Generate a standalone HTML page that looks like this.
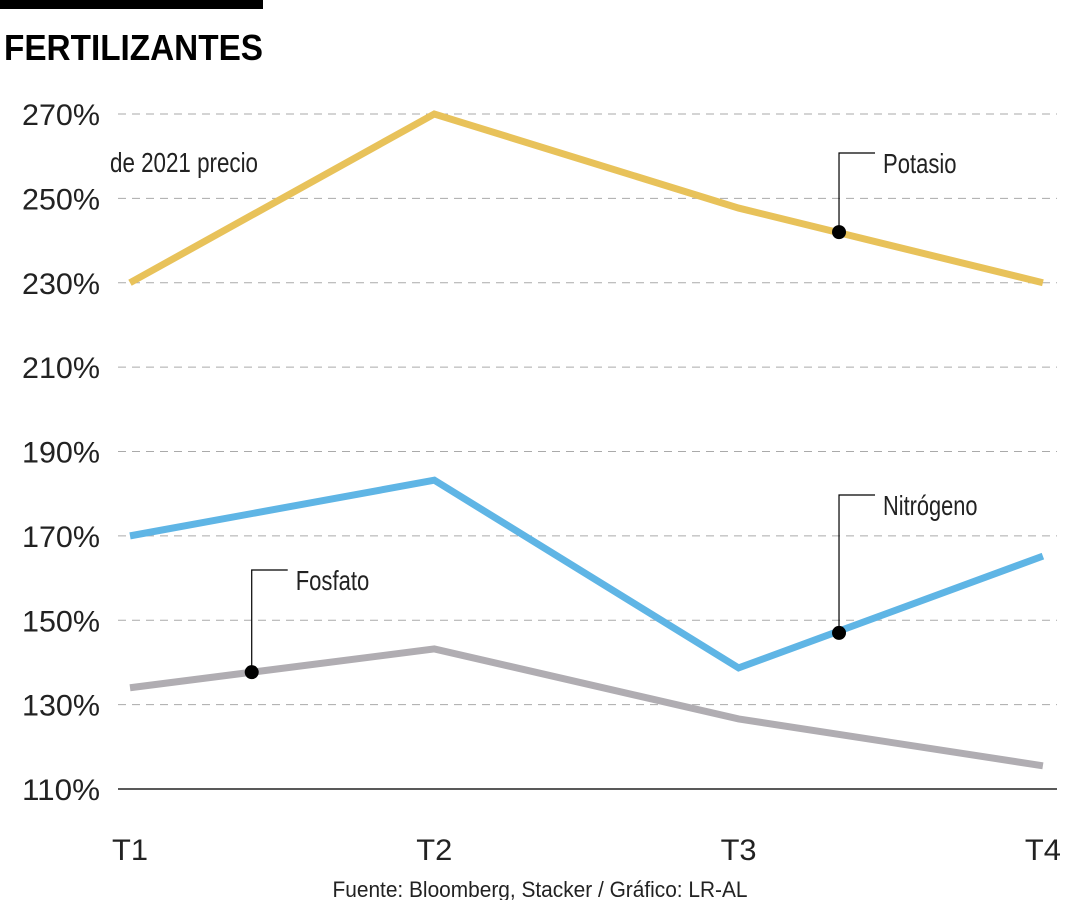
<!DOCTYPE html>
<html><head><meta charset="utf-8"><style>
html,body{margin:0;padding:0;background:#fff;}
svg{display:block;font-family:"Liberation Sans",sans-serif;}
</style></head><body>
<svg id="chart" width="1080" height="900" viewBox="0 0 1080 900">
<rect x="0" y="0" width="263" height="9" fill="#000"/>
<text x="4" y="60" font-size="36" font-weight="bold" textLength="259" lengthAdjust="spacingAndGlyphs">FERTILIZANTES</text>
<text x="110" y="172" font-size="28" fill="#222" textLength="148" lengthAdjust="spacingAndGlyphs">de 2021 precio</text>
<g id="grid"></g><g id="series"></g><g id="annot"></g>
<text x="540" y="897" font-size="22" fill="#222" text-anchor="middle" textLength="415" lengthAdjust="spacingAndGlyphs">Fuente: Bloomberg, Stacker / Gráfico: LR-AL</text>
</svg>
<script>
const categories=["T1","T2","T3","T4"];
const yTicks=[110,130,150,170,190,210,230,250,270];
const potasio=[230,270,247.7,230];
const nitrogeno=[170,183.2,138.7,165.2];
const fosfato=[134,143.2,126.6,115.5];
const markers=[{name:"Potasio",series:"potasio",t:2.33,v:242,labelY:163},{name:"Nitrógeno",series:"nitrogeno",t:2.33,v:147,labelY:505},{name:"Fosfato",series:"fosfato",t:0.4,v:137.7,labelY:580}];
const NS="http://www.w3.org/2000/svg";
const x=i=>130+i*304.3;
const y=v=>789-(v-110)*4.21875;
function mk(tag,attrs,parent){const e=document.createElementNS(NS,tag);for(const k in attrs)e.setAttribute(k,attrs[k]);parent.appendChild(e);return e;}
const grid=document.getElementById('grid');
yTicks.forEach(t=>{
  const l=mk('line',{x1:118,x2:1057,y1:y(t),y2:y(t),stroke:t===110?'#222':'#aaa','stroke-width':t===110?1.5:1,'stroke-dasharray':t===110?'':'8 6'},grid);
  
  
  const tx=mk('text',{x:100,y:y(t)+11,'font-size':30,'text-anchor':'end',fill:'#222',textLength:78,lengthAdjust:'spacingAndGlyphs'},grid);
  tx.textContent=t+'%';
  
  
});
categories.forEach((c,i)=>{
  const tx=mk('text',{x:x(i),y:860,'font-size':30,'text-anchor':'middle',fill:'#222',textLength:36,lengthAdjust:'spacingAndGlyphs'},grid);
  tx.textContent=c;
  
  
});
const sdata={potasio:potasio,nitrogeno:nitrogeno,fosfato:fosfato};
const colors={potasio:'#e8c25a',nitrogeno:'#5fb5e5',fosfato:'#b0adb2'};
const sg=document.getElementById('series');
['fosfato','nitrogeno','potasio'].forEach(k=>{
  const p=mk('polyline',{points:sdata[k].map((v,i)=>x(i)+','+y(v)).join(' '),fill:'none',stroke:colors[k],'stroke-width':7,'stroke-linejoin':'miter'},sg);
  
  
});
const ag=document.getElementById('annot');
markers.forEach(m=>{
  const mx=x(m.t),my=y(m.v);
  const l=mk('polyline',{points:`${mx},${my} ${mx},${m.labelY-10} ${mx+36},${m.labelY-10}`,fill:'none',stroke:'#000','stroke-width':1.2},ag);
  
  
  const c=mk('circle',{cx:mx,cy:my,r:7,fill:'#000'},ag);
  
  
  const t=mk('text',{x:mx+44,y:m.labelY+10,'font-size':28,fill:'#222',textLength:m.name.length*10.5,lengthAdjust:'spacingAndGlyphs'},ag);
  t.textContent=m.name;
  
  
});
</script>
</body></html>
